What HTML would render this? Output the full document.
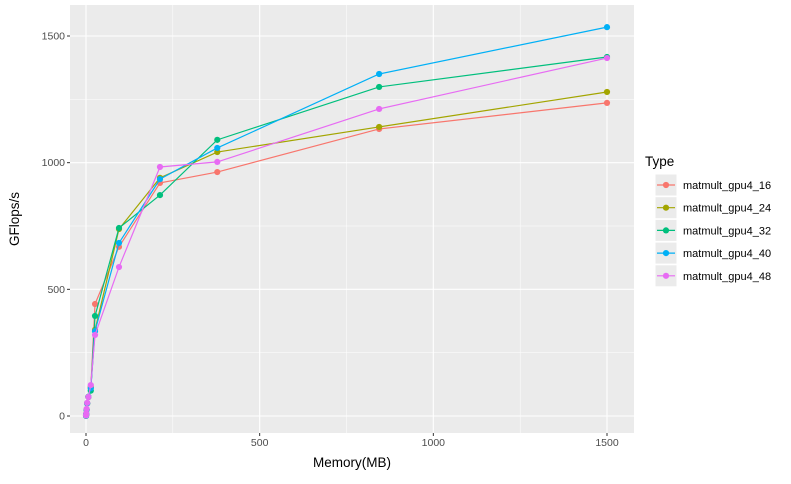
<!DOCTYPE html>
<html><head><meta charset="utf-8"><style>
body{margin:0;background:#fff;font-family:"Liberation Sans",sans-serif}
svg text{font-family:"Liberation Sans",sans-serif}
</style></head><body>
<svg id="c" width="791" height="479"></svg>
<script>
const memory=[0.2,0.8,1.7,3.4,6.9,13.8,26,95,213,378,844,1500];
const seriesNames=["matmult_gpu4_16","matmult_gpu4_24","matmult_gpu4_32","matmult_gpu4_40","matmult_gpu4_48"];
const s16=[1,8,25,50,75,110,442,668,920,963,1133,1236];
const s24=[1,8,25,50,75,115,340,738,940,1042,1141,1279];
const s32=[1,8,25,50,76,100,395,742,872,1090,1299,1417];
const s40=[1,8,25,50,75,110,335,683,935,1058,1350,1535];
const s48=[2,10,28,52,75,122,320,588,983,1003,1212,1413];
const colors=["#F8766D","#A3A500","#00BF7D","#00B0F6","#E76BF3"];
const xTicks=[0,500,1000,1500];
const yTicks=[0,500,1000,1500];
const series=[s16,s24,s32,s40,s48];
const NS="http://www.w3.org/2000/svg";
const svg=document.getElementById('c');
const L=70,R=634,T=5,B=433;
const xs=v=>86+v*(607-86)/1500;
const ys=v=>416-v*(416-36)/1500;
function el(t,a,p){const e=document.createElementNS(NS,t);for(const k in a)e.setAttribute(k,a[k]);(p||svg).appendChild(e);return e;}
const panel=el('rect',{x:L,y:T,width:R-L,height:B-T,fill:'#EBEBEB'});


const grid=el('g',{});


for(let i=0;i<xTicks.length;i++){const v=xTicks[i];
 el('line',{x1:xs(v),x2:xs(v),y1:T,y2:B,stroke:'#fff','stroke-width':1.1},grid);
 if(i<xTicks.length-1){const m=(v+xTicks[i+1])/2;el('line',{x1:xs(m),x2:xs(m),y1:T,y2:B,stroke:'#fff','stroke-width':0.5},grid);}
}
for(let i=0;i<yTicks.length;i++){const v=yTicks[i];
 el('line',{y1:ys(v),y2:ys(v),x1:L,x2:R,stroke:'#fff','stroke-width':1.1},grid);
 if(i<yTicks.length-1){const m=(v+yTicks[i+1])/2;el('line',{y1:ys(m),y2:ys(m),x1:L,x2:R,stroke:'#fff','stroke-width':0.5},grid);}
}
xTicks.forEach(v=>{
 el('line',{x1:xs(v),x2:xs(v),y1:B,y2:B+3,stroke:'#333'});
 const t=el('text',{x:xs(v),y:B+13,'text-anchor':'middle','font-size':10.5,fill:'#4D4D4D'});t.textContent=v;
 
 
});
yTicks.forEach(v=>{
 el('line',{x1:L-3,x2:L,y1:ys(v),y2:ys(v),stroke:'#333'});
 const t=el('text',{x:L-5,y:ys(v)+3.5,'text-anchor':'end','font-size':10.5,fill:'#4D4D4D'});t.textContent=v;
 
 
});
const xt=el('text',{x:(L+R)/2,y:467,'text-anchor':'middle','font-size':13.5,fill:'#000'});xt.textContent='Memory(MB)';


const yt=el('text',{x:0,y:0,'text-anchor':'middle','font-size':13.5,fill:'#000',transform:`translate(19,${(T+B)/2}) rotate(-90)`});yt.textContent='GFlops/s';


series.forEach((s,si)=>{
 const g=el('g',{});
 
 
 el('polyline',{points:s.map((v,i)=>xs(memory[i])+','+ys(v)).join(' '),fill:'none',stroke:colors[si],'stroke-width':1.2},g);
 s.forEach((v,i)=>{const c=el('circle',{cx:xs(memory[i]),cy:ys(v),r:3.1,fill:colors[si]},g);
  
  });
});
const lg=el('g',{});


const lt=el('text',{x:645,y:166,'font-size':13.5,fill:'#000'},lg);lt.textContent='Type';
seriesNames.forEach((n,i)=>{
 const y=174+i*22.7;
 const e=el('g',{},lg);
 
 
 el('rect',{x:655,y:y,width:22,height:22,fill:'#EBEBEB',stroke:'#fff'},e);
 el('line',{x1:657,x2:675,y1:y+11,y2:y+11,stroke:colors[i],'stroke-width':1.2},e);
 el('circle',{cx:666,cy:y+11,r:3.1,fill:colors[i]},e);
 const t=el('text',{x:683,y:y+15,'font-size':11,fill:'#000'},e);t.textContent=n;
});
</script>
</body></html>
